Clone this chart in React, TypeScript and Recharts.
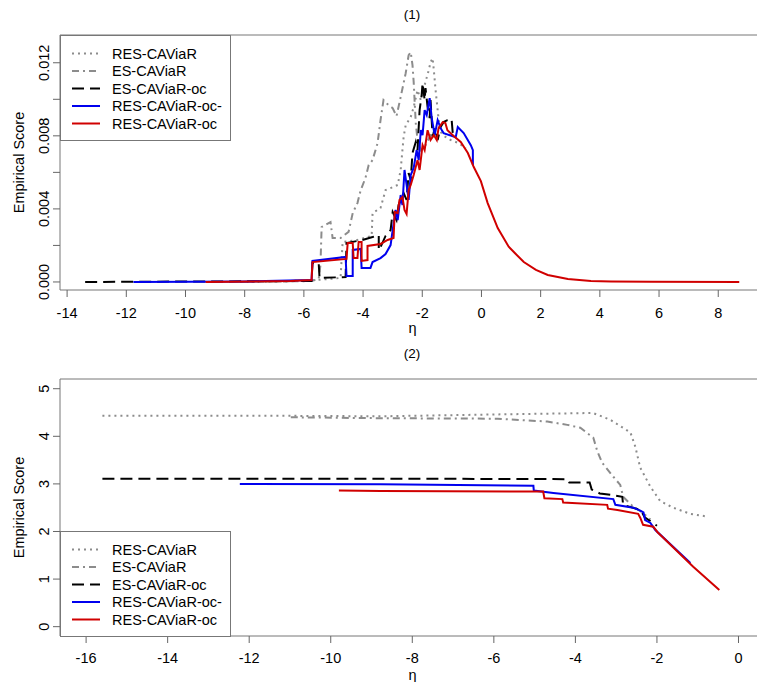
import React from "react";
import { LineChart, Line, XAxis, YAxis, ReferenceArea, Label } from "recharts";

// ---- panel (1): empirical score vs eta ----
const p1Res = [
  [-8.14, 0], [-5.77, 0.00008], [-4.76, 0.00022], [-4.73, 0.00109], [-4.69, 0.00219], [-4.19, 0.0023],
  [-3.85, 0.00246], [-3.71, 0.00252], [-3.68, 0.00377], [-3.41, 0.00405], [-3.24, 0.00503], [-3.07, 0.00514],
  [-2.83, 0.00531], [-2.73, 0.00613], [-2.67, 0.00722], [-2.63, 0.00793], [-2.56, 0.00859], [-2.39, 0.00903],
  [-2.29, 0.00957], [-2.16, 0.0105], [-2.05, 0.00996], [-1.92, 0.01078], [-1.78, 0.0116], [-1.72, 0.01203],
  [-1.65, 0.01225], [-1.61, 0.0116], [-1.55, 0.0105], [-1.48, 0.00941], [-1.41, 0.00831], [-1.31, 0.00804],
  [-1.04, 0.00777], [-0.77, 0.0076], [-0.53, 0.00733],
];
const p1Es = [
  [-8.14, 0], [-5.77, 0.00005], [-5.5, 0.00016], [-5.44, 0.00093], [-5.4, 0.00301], [-5.1, 0.00328],
  [-5.03, 0.00241], [-4.76, 0.00241], [-4.49, 0.00274], [-4.35, 0.00377], [-4.19, 0.00432], [-4.08, 0.00503],
  [-3.92, 0.00569], [-3.81, 0.0064], [-3.68, 0.00667], [-3.51, 0.0076], [-3.41, 0.00886], [-3.31, 0.00996],
  [-3.14, 0.00968], [-3.0, 0.00952], [-2.87, 0.00908], [-2.73, 0.01012], [-2.56, 0.01143], [-2.46, 0.01242],
  [-2.39, 0.01258], [-2.33, 0.01187], [-2.29, 0.01094], [-2.26, 0.00996], [-2.22, 0.0087], [-2.16, 0.00777],
  [-2.05, 0.00722], [-1.89, 0.00749], [-1.72, 0.00804], [-1.55, 0.00831], [-1.38, 0.00848],
];
const p1EsOc = [
  [-13.39, 0], [-5.74, 0.00005], [-5.71, 0.00104], [-5.5, 0.00104], [-5.47, 0.00022], [-4.59, 0.00027],
  [-4.56, 0.00213], [-4.02, 0.0023], [-3.68, 0.00246], [-3.47, 0.00257], [-3.47, 0.00175], [-3.41, 0.00191],
  [-3.24, 0.00252], [-3.07, 0.00284], [-3.0, 0.00383], [-2.87, 0.00339], [-2.8, 0.00421], [-2.63, 0.00487],
  [-2.53, 0.00449], [-2.46, 0.00596], [-2.39, 0.00558], [-2.33, 0.00706], [-2.22, 0.00766], [-2.16, 0.00722],
  [-2.09, 0.00941], [-2.02, 0.01023], [-1.99, 0.01089], [-1.92, 0.00996], [-1.89, 0.01061], [-1.82, 0.00957],
  [-1.75, 0.00897], [-1.72, 0.00996], [-1.65, 0.00793], [-1.58, 0.00842], [-1.48, 0.00777], [-1.38, 0.00848],
  [-1.28, 0.00875], [-1.15, 0.00886], [-1.01, 0.00892], [-0.97, 0.00815],
];
const p1ResOcMinus = [
  [-11.76, 0], [-7.8, 0.00003], [-5.74, 0.00011], [-5.71, 0.00115], [-4.59, 0.00137], [-4.56, 0.00033],
  [-4.35, 0.00033], [-4.35, 0.00175], [-4.08, 0.00181], [-4.05, 0.00077], [-3.75, 0.00077], [-3.68, 0.00109],
  [-3.41, 0.00131], [-3.24, 0.00153], [-3.07, 0.00202], [-3.0, 0.00284], [-2.9, 0.00394], [-2.83, 0.00339],
  [-2.73, 0.00476], [-2.67, 0.00421], [-2.6, 0.00613], [-2.53, 0.00531], [-2.46, 0.00449], [-2.39, 0.00585],
  [-2.29, 0.00624], [-2.19, 0.00722], [-2.12, 0.00667], [-2.05, 0.00831], [-1.99, 0.00804], [-1.92, 0.00941],
  [-1.85, 0.00914], [-1.75, 0.01006], [-1.68, 0.00897], [-1.58, 0.00804], [-1.48, 0.00886], [-1.38, 0.00842],
  [-1.28, 0.00815], [-0.87, 0.00793], [-0.8, 0.00848], [-0.6, 0.00815], [-0.36, 0.00749], [-0.29, 0.00722],
  [-0.29, 0.0064],
];
const p1ResOc = [
  [-9.32, 0], [-6.45, 0.00005], [-5.74, 0.00011], [-5.71, 0.00109], [-4.56, 0.00126], [-4.52, 0.00213],
  [-4.35, 0.00213], [-4.32, 0.00131], [-4.19, 0.00131], [-4.15, 0.00219], [-4.05, 0.00219], [-4.05, 0.00115],
  [-3.85, 0.0012], [-3.85, 0.00197], [-3.41, 0.00208], [-3.17, 0.0023], [-2.97, 0.00241], [-2.93, 0.00383],
  [-2.83, 0.00377], [-2.77, 0.00449], [-2.67, 0.00465], [-2.6, 0.00394], [-2.53, 0.00372], [-2.46, 0.00503],
  [-2.39, 0.00531], [-2.29, 0.00585], [-2.16, 0.00667], [-2.09, 0.00613], [-1.99, 0.00749], [-1.92, 0.00722],
  [-1.82, 0.00831], [-1.72, 0.00777], [-1.61, 0.00804], [-1.51, 0.00777], [-1.45, 0.00842], [-1.31, 0.00875],
  [-1.22, 0.0087], [-1.15, 0.00831], [-0.94, 0.00799], [-0.7, 0.00766], [-0.46, 0.00706], [-0.26, 0.00629],
  [-0.02, 0.00552], [0.21, 0.00432], [0.55, 0.00295], [0.92, 0.00193], [1.16, 0.00153], [1.43, 0.00109],
  [1.84, 0.00066], [2.24, 0.00038], [2.92, 0.00016], [3.7, 0.00005], [4.38, 0.00003], [5.73, 0.00001],
  [8.71, 0],
];

// ---- panel (2) ----
const p2Res = [
  [-15.6, 4.43], [-11.0, 4.43], [-8.78, 4.42], [-5.91, 4.46], [-3.57, 4.49], [-3.15, 4.35], [-2.65, 4.08],
  [-2.53, 3.78], [-2.41, 3.34], [-2.16, 2.94], [-1.92, 2.64], [-1.6, 2.5], [-1.18, 2.37], [-0.74, 2.31],
];
const p2Es = [
  [-10.98, 4.4], [-8.78, 4.38], [-5.91, 4.37], [-4.69, 4.31], [-4.2, 4.24], [-3.88, 4.18], [-3.56, 3.97],
  [-3.46, 3.68], [-3.34, 3.44], [-3.07, 3.15], [-2.9, 2.98], [-2.83, 2.73], [-2.58, 2.52], [-2.34, 2.39],
  [-2.16, 2.25],
];
const p2EsOc = [
  [-15.6, 3.11], [-8.78, 3.11], [-4.2, 3.1], [-4.15, 3.03], [-3.65, 3.03], [-3.6, 2.88], [-3.4, 2.8],
  [-3.05, 2.76], [-2.85, 2.73], [-2.83, 2.56], [-2.4, 2.45], [-2.3, 2.3], [-2.0, 2.12],
];
const p2ResOcMinus = [
  [-12.23, 3.0], [-8.78, 2.99], [-5.03, 2.96], [-5.02, 2.86], [-4.54, 2.81], [-3.07, 2.68], [-3.02, 2.56],
  [-2.58, 2.5], [-2.41, 2.44], [-2.33, 2.4], [-2.29, 2.24], [-2.16, 2.18], [-2.04, 2.03], [-1.18, 1.34],
];
const p2ResOc = [
  [-9.8, 2.86], [-8.78, 2.85], [-4.79, 2.84], [-4.76, 2.7], [-4.32, 2.68], [-4.3, 2.61], [-3.22, 2.56],
  [-3.2, 2.48], [-2.97, 2.45], [-2.46, 2.37], [-2.41, 2.29], [-2.34, 2.14], [-2.09, 2.1], [-1.99, 1.99],
  [-1.11, 1.26], [-0.47, 0.77],
];

const p1XTicks = [-14, -12, -10, -8, -6, -4, -2, 0, 2, 4, 6, 8];
const p1YTicks = [0, 0.002, 0.004, 0.006, 0.008, 0.01, 0.012];
const p2XTicks = [-16, -14, -12, -10, -8, -6, -4, -2, 0];
const p2YTicks = [0, 1, 2, 3, 4, 5];

const seriesNames = ["RES-CAViaR", "ES-CAViaR", "ES-CAViaR-oc", "RES-CAViaR-oc-", "RES-CAViaR-oc"];
const seriesStyle = [
  { color: "#8c8c8c", dash: "2 4" },
  { color: "#8c8c8c", dash: "7 4 2 4" },
  { color: "#000000", dash: "12 6" },
  { color: "#0000ee", dash: undefined },
  { color: "#d00000", dash: undefined },
];

const FONT = '"Liberation Sans", Arial, sans-serif';
const toPts = (arr: number[][]) => arr.map(([x, y]) => ({ x, y }));

const XTick = ({ x, y, payload, shift }: any) => (
  <text x={x} y={y + shift} textAnchor="middle" dominantBaseline="central" fontSize={14.5} fontFamily={FONT} fill="#000">
    {String(payload.value)}
  </text>
);

const YTick = ({ x, y, payload, fmt }: any) => {
  const label = fmt(payload.value);
  const cx = x - 7;
  return (
    <text x={cx} y={y} transform={`rotate(-90 ${cx} ${y})`} textAnchor="middle" dominantBaseline="central"
      fontSize={14.5} fontFamily={FONT} fill="#000">
      {label}
    </text>
  );
};

const Legend = ({ top, height }: { top: number; height: number }) => (
  <svg style={{ position: "absolute", left: 60, top }} width={171} height={height + 1}>
    <rect x={0.5} y={0.5} width={170} height={height} fill="#fff" stroke="#777" />
    {seriesNames.map((n, i) => {
      const yy = 18.5 + i * 17.5;
      return (
        <g key={n}>
          <line x1={12} x2={40} y1={yy} y2={yy} stroke={seriesStyle[i].color} strokeWidth={2}
            strokeDasharray={seriesStyle[i].dash} />
          <text x={52} y={yy} dominantBaseline="central" fontSize={14.5} fontFamily={FONT} fill="#000">{n}</text>
        </g>
      );
    })}
  </svg>
);

type PanelProps = {
  data: number[][][];
  xDomain: [number, number];
  yDomain: [number, number];
  xTicks: number[];
  yTicks: number[];
  yFmt: (v: number) => string;
  height: number;
  top: number;
  xAxisH: number;
  tickShift: number;
  etaDy: number;
};

const Panel = (p: PanelProps) => (
  <LineChart width={780} height={p.height} margin={{ top: p.top, right: 15, bottom: 0, left: 0 }}>
    <XAxis type="number" dataKey="x" domain={p.xDomain} ticks={p.xTicks} interval={0} allowDataOverflow
      height={p.xAxisH} axisLine={false} tickSize={7} tickLine={{ stroke: "#666" }}
      tick={(t: any) => <XTick {...t} shift={p.tickShift} />}>
      <Label content={(lp: any) => (
        <text x={lp.viewBox.x + lp.viewBox.width / 2} y={lp.viewBox.y + p.etaDy} textAnchor="middle"
          dominantBaseline="central" fontSize={14.5} fontFamily={FONT} fill="#000">η</text>
      )} />
    </XAxis>
    <YAxis type="number" domain={p.yDomain} ticks={p.yTicks} interval={0} allowDataOverflow width={60}
      axisLine={false} tickSize={7} tickLine={{ stroke: "#666" }}
      tick={(t: any) => <YTick {...t} fmt={p.yFmt} />}>
      <Label content={(lp: any) => {
        const cy = lp.viewBox.y + lp.viewBox.height / 2;
        return (
          <text x={19} y={cy} transform={`rotate(-90 19 ${cy})`} textAnchor="middle" dominantBaseline="central"
            fontSize={14.5} fontFamily={FONT} fill="#000">Empirical Score</text>
        );
      }} />
    </YAxis>
    <ReferenceArea x1={p.xDomain[0]} x2={p.xDomain[1]} y1={p.yDomain[0]} y2={p.yDomain[1]}
      fill="none" fillOpacity={0} stroke="#777" strokeWidth={1} ifOverflow="visible" />
    {p.data.map((d, i) => (
      <Line key={seriesNames[i]} data={toPts(d)} dataKey="y" type="linear" dot={false} activeDot={false}
        stroke={seriesStyle[i].color} strokeWidth={2} strokeDasharray={seriesStyle[i].dash}
        isAnimationActive={false} />
    ))}
  </LineChart>
);

const titleStyle: React.CSSProperties = {
  position: "absolute", left: 412, transform: "translate(-50%, -50%)", fontFamily: FONT, fontSize: 13.5,
};

export default function App() {
  return (
    <div style={{ position: "absolute", left: 0, top: 0, width: 757, height: 682, overflow: "hidden", background: "#fff" }}>
      <div style={{ position: "absolute", left: 0, top: 0 }}>
        <Panel data={[p1Res, p1Es, p1EsOc, p1ResOcMinus, p1ResOc]} xDomain={[-14.24, 9.58]}
          yDomain={[-0.00044, 0.01352]} xTicks={p1XTicks} yTicks={p1YTicks}
          yFmt={(v) => (Math.round(v * 1000) % 4 === 0 ? v.toFixed(3) : "")}
          height={345} top={35} xAxisH={55} tickShift={14} etaDy={38} />
      </div>
      <div style={{ position: "absolute", left: 0, top: 345 }}>
        <Panel data={[p2Res, p2Es, p2EsOc, p2ResOcMinus, p2ResOc]} xDomain={[-16.64, 0.65]}
          yDomain={[-0.196, 5.204]} xTicks={p2XTicks} yTicks={p2YTicks} yFmt={(v) => String(v)}
          height={337} top={34} xAxisH={46} tickShift={13} etaDy={39} />
      </div>
      <div style={{ ...titleStyle, top: 14 }}>(1)</div>
      <div style={{ ...titleStyle, top: 353 }}>(2)</div>
      <Legend top={35} height={105} />
      <Legend top={531} height={105} />
    </div>
  );
}
